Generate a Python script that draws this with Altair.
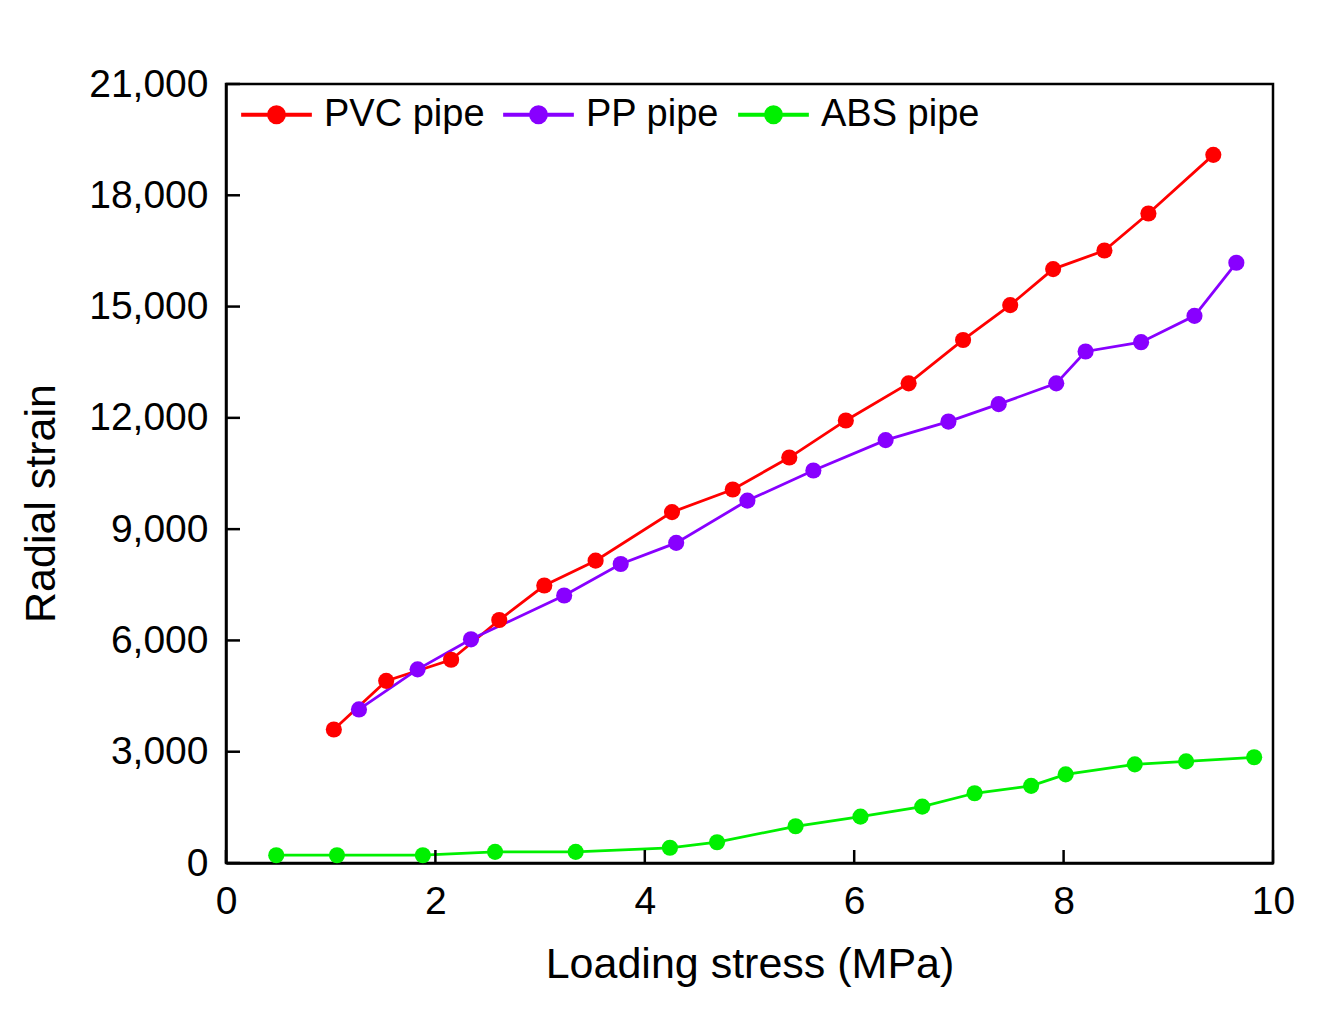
import altair as alt
import pandas as pd

pvc_x = [1.03, 1.53, 2.15, 2.61, 3.04, 3.53, 4.26, 4.84, 5.38, 5.92, 6.52, 7.04, 7.49, 7.90, 8.39, 8.81, 9.43]
pvc_y = [3600, 4910, 5480, 6550, 7480, 8150, 9460, 10070, 10930, 11930, 12930, 14100, 15040, 16010, 16510, 17510, 19090]

pp_x = [1.27, 1.83, 2.34, 3.23, 3.77, 4.30, 4.98, 5.61, 6.30, 6.90, 7.38, 7.93, 8.21, 8.74, 9.25, 9.65]
pp_y = [4140, 5220, 6030, 7210, 8060, 8630, 9770, 10580, 11400, 11900, 12370, 12930, 13790, 14040, 14750, 16180]

abs_x = [0.48, 1.06, 1.88, 2.57, 3.34, 4.24, 4.69, 5.44, 6.06, 6.65, 7.15, 7.69, 8.02, 8.68, 9.17, 9.82]
abs_y = [210, 210, 210, 300, 300, 410, 560, 990, 1250, 1520, 1880, 2080, 2390, 2660, 2740, 2850]

series = ["PVC pipe", "PP pipe", "ABS pipe"]
colors = ["#FF0000", "#8800FF", "#00F000"]

x_ticks = [0, 2, 4, 6, 8, 10]
y_ticks = [0, 3000, 6000, 9000, 12000, 15000, 18000, 21000]

rows = []
for name, xs, ys in [("PVC pipe", pvc_x, pvc_y), ("PP pipe", pp_x, pp_y), ("ABS pipe", abs_x, abs_y)]:
    for i, (a, b) in enumerate(zip(xs, ys)):
        rows.append({"pipe": name, "stress": a, "strain": b, "order": i})
df = pd.DataFrame(rows)

W, H = 1047, 779
FONT = "Liberation Sans"

xscale = alt.Scale(domain=[0, 10], nice=False, zero=False)
yscale = alt.Scale(domain=[0, 21000], nice=False)
cscale = alt.Scale(domain=series, range=colors)

xax = alt.X("stress:Q", scale=xscale,
            axis=alt.Axis(title="Loading stress (MPa)", values=x_ticks, format="d",
                          tickSize=0, labelPadding=19, titlePadding=22, grid=False,
                          labelFlush=False))
yax = alt.Y("strain:Q", scale=yscale,
            axis=alt.Axis(title="Radial strain", values=y_ticks, format=",d",
                          tickSize=0, labelPadding=18, titlePadding=25, grid=False,
                          titleY=419, labelFlush=False))

leg = alt.Legend(title=None, orient="none", direction="horizontal",
                 legendX=13, legendY=-7, symbolSize=5000,
                 symbolType="M-1,0L1,0M-0.21,0A0.21,0.21 0 1,0 0.21,0A0.21,0.21 0 1,0 -0.21,0Z",
                 symbolStrokeWidth=4,
                 labelFont=FONT, labelFontSize=38, labelColor="black", labelLimit=0,
                 columnPadding=10, labelOffset=10, padding=0)

base = alt.Chart(df)

lines = base.mark_line(strokeWidth=2.8).encode(
    x=xax, y=yax,
    color=alt.Color("pipe:N", scale=cscale, legend=leg),
    order="order:Q",
)

points = base.mark_point(filled=True, size=260, strokeWidth=0, opacity=1).encode(
    x="stress:Q", y="strain:Q",
    fill=alt.Fill("pipe:N", scale=cscale, legend=leg),
)

xt_df = pd.DataFrame({"t": x_ticks})
yt_df = pd.DataFrame({"t": y_ticks})
xticks = alt.Chart(xt_df).mark_rule(color="black", strokeWidth=2.5).encode(
    x=alt.X("t:Q", scale=xscale), y=alt.value(H), y2=alt.value(H - 13))
yticks = alt.Chart(yt_df).mark_rule(color="black", strokeWidth=2.5).encode(
    y=alt.Y("t:Q", scale=yscale), x=alt.value(0), x2=alt.value(14))

chart = alt.layer(lines, points, xticks, yticks).properties(
    width=W, height=H,
    autosize=alt.AutoSizeParams(type="none"),
    padding={"left": 218, "top": 76, "right": 55, "bottom": 140},
).configure_view(
    stroke="black", strokeWidth=2.5
).configure_axis(
    domainColor="black", domainWidth=2.5,
    labelFont=FONT, labelFontSize=39, labelColor="black",
    titleFont=FONT, titleFontSize=43, titleColor="black", titleFontWeight="normal",
)

chart.save("out.html", embed_options={"renderer": "svg", "actions": False})
